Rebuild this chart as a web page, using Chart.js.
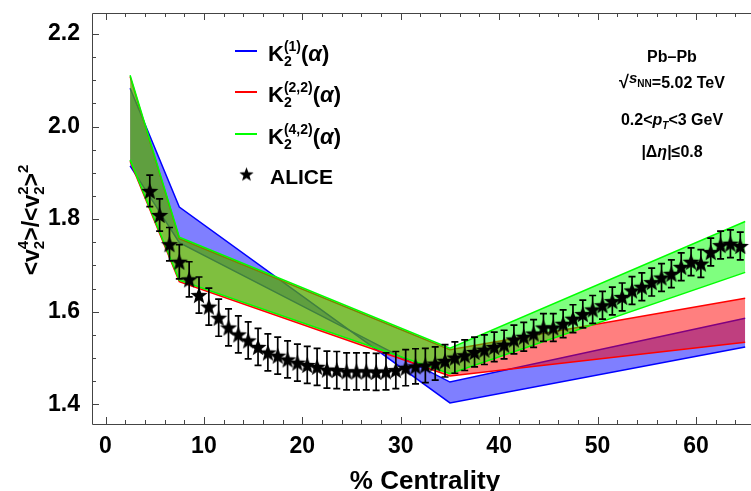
<!DOCTYPE html>
<html>
<head>
<meta charset="utf-8">
<script src="https://cdn.jsdelivr.net/npm/chart.js@4.4.1/dist/chart.umd.min.js"></script>
<style>
  html, body { margin: 0; padding: 0; background: #fff; }
  canvas { display: block; }
</style>
</head>
<body>
<canvas id="kurtChart" width="751" height="491"></canvas>
<script>
// Узлы модельных полос по центральности
var bandX = [2.5, 7.5, 35, 65];
// Границы полос (две линии на модель)
var k1A = [2.083, 1.826, 1.403, 1.524];
var k1B = [1.915, 1.749, 1.448, 1.586];
var k22Hi = [2.108, 1.758, 1.518, 1.629];
var k22Lo = [1.925, 1.665, 1.461, 1.534];
var k42Hi = [2.111, 1.761, 1.521, 1.795];
var k42Lo = [1.928, 1.668, 1.466, 1.685];

// Данные ALICE
var aliceX = [4.5, 5.5, 6.5, 7.5, 8.5, 9.5, 10.5, 11.5, 12.5, 13.5, 14.5, 15.5, 16.5, 17.5, 18.5, 19.5,
  20.5, 21.5, 22.5, 23.5, 24.5, 25.5, 26.5, 27.5, 28.5, 29.5, 30.5, 31.5, 32.5, 33.5, 34.5, 35.5,
  36.5, 37.5, 38.5, 39.5, 40.5, 41.5, 42.5, 43.5, 44.5, 45.5, 46.5, 47.5, 48.5, 49.5, 50.5, 51.5,
  52.5, 53.5, 54.5, 55.5, 56.5, 57.5, 58.5, 59.5, 60.5, 61.5, 62.5, 63.5, 64.5];
var aliceY = [1.861, 1.809, 1.746, 1.708, 1.670, 1.636, 1.611, 1.587, 1.566, 1.551, 1.538, 1.524, 1.512, 1.505, 1.497, 1.490,
  1.485, 1.481, 1.475, 1.474, 1.471, 1.471, 1.471, 1.470, 1.471, 1.474, 1.479, 1.482, 1.484, 1.488, 1.494, 1.501,
  1.506, 1.513, 1.518, 1.524, 1.529, 1.540, 1.546, 1.553, 1.566, 1.566, 1.574, 1.585, 1.595, 1.605, 1.614, 1.623,
  1.632, 1.646, 1.654, 1.664, 1.674, 1.682, 1.697, 1.708, 1.704, 1.729, 1.744, 1.747, 1.742];
var aliceErr = [0.034, 0.035, 0.036, 0.037, 0.038, 0.039, 0.040, 0.040, 0.040, 0.040, 0.040, 0.040, 0.040, 0.040, 0.040, 0.040,
  0.040, 0.040, 0.040, 0.040, 0.040, 0.040, 0.040, 0.040, 0.040, 0.040, 0.039, 0.038, 0.037, 0.036, 0.035, 0.034,
  0.033, 0.032, 0.032, 0.032, 0.031, 0.031, 0.031, 0.030, 0.030, 0.030, 0.030, 0.030, 0.030, 0.030, 0.030, 0.030,
  0.030, 0.030, 0.030, 0.030, 0.030, 0.030, 0.030, 0.030, 0.030, 0.030, 0.030, 0.030, 0.030];

// Подписи осей
var xTicks = [0, 10, 20, 30, 40, 50, 60];
var yTicks = [1.4, 1.6, 1.8, 2.0, 2.2];

var FONT = '"Liberation Sans", Arial, sans-serif';

function pts(xs, ys) {
    return xs.map(function (x, i) { return { x: x, y: ys[i] }; });
}

// Закрашенная пятиконечная звезда
function makeStar(r) {
    var c = document.createElement('canvas');
    var s = Math.ceil(r * 2 + 2);
    c.width = s; c.height = s;
    var g = c.getContext('2d');
    g.beginPath();
    for (var i = 0; i < 10; i++) {
        var rad = i % 2 === 0 ? r : r * 0.42;
        var a = -Math.PI / 2 + i * Math.PI / 5;
        var px = s / 2 + rad * Math.cos(a), py = s / 2 + rad * Math.sin(a) + r * 0.1;
        if (i === 0) g.moveTo(px, py); else g.lineTo(px, py);
    }
    g.closePath();
    g.fillStyle = '#000';
    g.fill();
    return c;
}
var star = makeStar(9);
var legendStar = makeStar(7.5);

// Текст с индексами: [текст, размер, сдвиг, курсив, без продвижения]
function richWidth(ctx, parts) {
    var w = 0;
    parts.forEach(function (p) {
        ctx.font = (p[3] ? 'italic ' : '') + 'bold ' + p[1] + 'px ' + FONT;
        if (!p[4]) w += ctx.measureText(p[0]).width;
    });
    return w;
}
function drawRich(ctx, parts, x, y) {
    parts.forEach(function (p) {
        ctx.font = (p[3] ? 'italic ' : '') + 'bold ' + p[1] + 'px ' + FONT;
        ctx.fillText(p[0], x, y + p[2]);
        if (!p[4]) x += ctx.measureText(p[0]).width;
    });
}

// Планки погрешностей ALICE
var errorBars = {
    id: 'errorBars',
    beforeDatasetDraw: function (chart, args) {
        if (args.index !== 0) return;
        var xs = chart.scales.x, ys = chart.scales.y, ctx = chart.ctx;
        ctx.save();
        ctx.strokeStyle = '#000';
        ctx.lineWidth = 1.7;
        for (var i = 0; i < aliceX.length; i++) {
            var px = xs.getPixelForValue(aliceX[i]);
            var y1 = ys.getPixelForValue(aliceY[i] - aliceErr[i]);
            var y2 = ys.getPixelForValue(aliceY[i] + aliceErr[i]);
            ctx.beginPath();
            ctx.moveTo(px, y1); ctx.lineTo(px, y2);
            ctx.moveTo(px - 3.5, y1); ctx.lineTo(px + 3.5, y1);
            ctx.moveTo(px - 3.5, y2); ctx.lineTo(px + 3.5, y2);
            ctx.stroke();
        }
        ctx.restore();
    }
};

// Рамка, засечки внутрь, легенда, подписи
var frame = {
    id: 'frame',
    afterDraw: function (chart) {
        var ctx = chart.ctx, a = chart.chartArea;
        var xs = chart.scales.x, ys = chart.scales.y;
        ctx.save();
        ctx.strokeStyle = '#444';
        ctx.lineWidth = 1;
        ctx.beginPath();
        ctx.moveTo(a.left + 0.5, a.top + 0.5); ctx.lineTo(a.left + 0.5, a.bottom + 0.5);
        ctx.lineTo(a.right, a.bottom + 0.5);
        ctx.moveTo(a.left + 0.5, a.top + 0.5); ctx.lineTo(a.right, a.top + 0.5);
        // засечки по X (снизу и сверху)
        for (var v = 0; v <= 64; v += 2) {
            var px = Math.round(xs.getPixelForValue(v)) + 0.5;
            var len = v % 10 === 0 ? 7 : 4;
            ctx.moveTo(px, a.bottom); ctx.lineTo(px, a.bottom - len);
            ctx.moveTo(px, a.top); ctx.lineTo(px, a.top + len);
        }
        // засечки по Y
        for (var k = 0; k <= 16; k++) {
            var yv = 1.4 + k * 0.05;
            var py = Math.round(ys.getPixelForValue(yv)) + 0.5;
            var l2 = k % 4 === 0 ? 7 : 4;
            ctx.moveTo(a.left, py); ctx.lineTo(a.left + l2, py);
        }
        ctx.stroke();

        ctx.fillStyle = '#000';
        ctx.textBaseline = 'alphabetic';

        // подпись оси X
        ctx.font = 'bold 26px ' + FONT;
        ctx.textAlign = 'center';
        ctx.fillText('% Centrality', 425, 489);
        ctx.textAlign = 'left';

        // подпись оси Y
        var yParts = [['<v', 23, 0], ['2', 15, 5, false, true], ['4', 15, -11], ['>/<v', 23, 0],
            ['2', 15, 5, false, true], ['2', 15, -11], ['>', 23, 0], ['2', 15, -11]];
        ctx.save();
        ctx.translate(39, 220);
        ctx.rotate(-Math.PI / 2);
        drawRich(ctx, yParts, -richWidth(ctx, yParts) / 2, 0);
        ctx.restore();

        // легенда
        var leg = [
            { c: '#0000ff', y: 51, s: '(1)' },
            { c: '#ff0000', y: 92, s: '(2,2)' },
            { c: '#00ff00', y: 134, s: '(4,2)' }
        ];
        leg.forEach(function (e) {
            ctx.strokeStyle = e.c;
            ctx.lineWidth = 2;
            ctx.beginPath();
            ctx.moveTo(235, e.y); ctx.lineTo(257, e.y);
            ctx.stroke();
            drawRich(ctx, [['K', 22, 0], ['2', 14, 5, false, true], [e.s, 14, -10], ['(', 22, 0],
                ['α', 22, 0, true], [')', 22, 0]], 268, e.y + 10);
        });
        ctx.drawImage(legendStar, 246.5 - legendStar.width / 2, 174 - legendStar.height / 2);
        ctx.font = 'bold 21px ' + FONT;
        ctx.fillText('ALICE', 270, 183.5);

        // условия эксперимента
        var notes = [
            { y: 61.5, p: [['Pb\u2013Pb', 16, 0]] },
            { y: 88, p: [['\u221A', 18, 0], ['s', 15, -5, true], ['NN', 10, -1], ['=5.02 TeV', 16, 0]] },
            { y: 125, p: [['0.2<', 16, 0], ['p', 16, 0, true], ['T', 10, 4, true], ['<3 GeV', 16, 0]] },
            { y: 157, p: [['|\u0394', 16, 0], ['\u03B7', 16, 0, true], ['|\u2264', 16, 0], ['0.8', 16, 0]] }
        ];
        notes.forEach(function (n) {
            drawRich(ctx, n.p, 672 - richWidth(ctx, n.p) / 2, n.y);
        });
        ctx.restore();
    }
};

var ctx = document.getElementById('kurtChart').getContext('2d');

new Chart(ctx, {
    type: 'scatter',
    data: {
        datasets: [
            {
                label: 'ALICE',
                data: pts(aliceX, aliceY),
                pointStyle: star,
                pointRadius: 8,
                showLine: false,
                order: 0
            },
            { label: 'K42 hi', data: pts(bandX, k42Hi), showLine: true, borderColor: '#00ff00', borderWidth: 1.5, pointRadius: 0, fill: false, order: 1 },
            { label: 'K42 lo', data: pts(bandX, k42Lo), showLine: true, borderColor: '#00ff00', borderWidth: 1.5, pointRadius: 0, fill: '-1', backgroundColor: 'rgba(0,255,0,0.5)', order: 1 },
            { label: 'K22 hi', data: pts(bandX, k22Hi), showLine: true, borderColor: '#ff0000', borderWidth: 1.5, pointRadius: 0, fill: false, order: 2 },
            { label: 'K22 lo', data: pts(bandX, k22Lo), showLine: true, borderColor: '#ff0000', borderWidth: 1.5, pointRadius: 0, fill: '-1', backgroundColor: 'rgba(255,0,0,0.5)', order: 2 },
            { label: 'K1 a', data: pts(bandX, k1A), showLine: true, borderColor: '#0000ff', borderWidth: 1.5, pointRadius: 0, fill: false, order: 3 },
            { label: 'K1 b', data: pts(bandX, k1B), showLine: true, borderColor: '#0000ff', borderWidth: 1.5, pointRadius: 0, fill: '-1', backgroundColor: 'rgba(0,0,255,0.5)', order: 3 }
        ]
    },
    options: {
        responsive: false,
        animation: false,
        devicePixelRatio: 1,
        layout: { autoPadding: false, padding: { top: 13, left: 0, right: 0, bottom: 0 } },
        scales: {
            x: {
                type: 'linear',
                min: -1.372,
                max: 65.59,
                grid: { display: false },
                border: { display: false },
                afterFit: function (s) { s.height = 67; s.paddingLeft = 0; s.paddingRight = 0; },
                afterBuildTicks: function (s) { s.ticks = xTicks.map(function (v) { return { value: v }; }); },
                ticks: {
                    color: '#000',
                    padding: 1,
                    maxRotation: 0,
                    font: { size: 23, weight: 'bold', family: FONT },
                    callback: function (v) { return String(v); }
                }
            },
            y: {
                type: 'linear',
                min: 1.3574,
                max: 2.2454,
                grid: { display: false },
                border: { display: false },
                afterFit: function (s) { s.width = 92; s.paddingTop = 0; s.paddingBottom = 0; },
                afterBuildTicks: function (s) { s.ticks = yTicks.map(function (v) { return { value: v }; }); },
                ticks: {
                    color: '#000',
                    padding: 4,
                    font: { size: 23, weight: 'bold', family: FONT },
                    callback: function (v) { return Number(v).toFixed(1); }
                }
            }
        },
        plugins: {
            legend: { display: false },
            tooltip: { enabled: false }
        }
    },
    plugins: [errorBars, frame]
});
</script>
</body>
</html>
